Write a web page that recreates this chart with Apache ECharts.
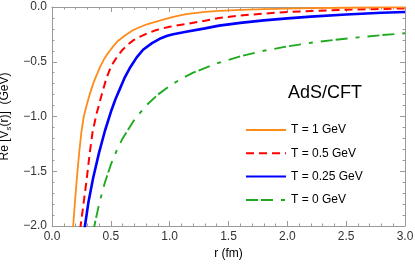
<!DOCTYPE html>
<html><head><meta charset="utf-8">
<script src="https://cdn.jsdelivr.net/npm/echarts@6/dist/echarts.min.js"></script>
<style>html,body{margin:0;padding:0;background:#fff}#c{width:415px;height:265px}</style>
</head><body><div id="c"></div>
<script>
// ---- data ----
const seriesNames = ['T = 1 GeV', 'T = 0.5 GeV', 'T = 0.25 GeV', 'T = 0 GeV'];
const xTicks = [0.0, 0.5, 1.0, 1.5, 2.0, 2.5, 3.0];
const yTicks = [0.0, -0.5, -1.0, -1.5, -2.0];

const rT1 = [0.17, 0.18, 0.195, 0.21, 0.23, 0.25, 0.27, 0.294, 0.32, 0.35, 0.38, 0.41, 0.44, 0.48, 0.52, 0.56, 0.62, 0.69, 0.8, 0.915, 1.03, 1.14, 1.3, 1.42, 1.6, 1.8, 2.0, 2.2, 2.5, 2.8, 3.0];
const vT1 = [-2.2, -2.0, -1.78, -1.58, -1.34, -1.14, -1.0, -0.9, -0.8, -0.70, -0.62, -0.545, -0.48, -0.415, -0.36, -0.31, -0.26, -0.21, -0.16, -0.125, -0.09, -0.065, -0.045, -0.036, -0.027, -0.019, -0.014, -0.010, -0.007, -0.004, -0.003];

const rT05 = [0.235, 0.243, 0.27, 0.294, 0.32, 0.345, 0.38, 0.42, 0.46, 0.49, 0.52, 0.55, 0.6, 0.65, 0.69, 0.75, 0.8, 0.887, 1.0, 1.14, 1.3, 1.42, 1.6, 1.8, 2.0, 2.2, 2.5, 2.8, 3.0];
const vT05 = [-2.15, -2.0, -1.78, -1.58, -1.34, -1.14, -0.97, -0.81, -0.66, -0.575, -0.51, -0.46, -0.39, -0.34, -0.305, -0.27, -0.245, -0.21, -0.18, -0.155, -0.125, -0.10, -0.078, -0.06, -0.046, -0.036, -0.025, -0.018, -0.013];

const rT025 = [0.27, 0.28, 0.31, 0.35, 0.40, 0.45, 0.506, 0.54, 0.576, 0.62, 0.66, 0.72, 0.774, 0.85, 0.915, 0.98, 1.03, 1.14, 1.3, 1.42, 1.6, 1.8, 2.0, 2.2, 2.5, 2.8, 3.0];
const vT025 = [-2.12, -2.0, -1.78, -1.56, -1.33, -1.13, -0.94, -0.84, -0.75, -0.64, -0.56, -0.46, -0.39, -0.33, -0.29, -0.262, -0.248, -0.226, -0.195, -0.17, -0.145, -0.122, -0.104, -0.088, -0.068, -0.053, -0.045];

const rT0 = [0.35, 0.36, 0.4, 0.45, 0.5, 0.55, 0.6, 0.7, 0.8, 0.9, 1.0, 1.1, 1.2, 1.4, 1.6, 1.8, 2.0, 2.2, 2.4, 2.6, 2.8, 3.0];
const vT0 = [-2.06, -2.0, -1.8, -1.6, -1.44, -1.31, -1.2, -1.03, -0.9, -0.8, -0.72, -0.655, -0.6, -0.515, -0.45, -0.4, -0.36, -0.327, -0.3, -0.277, -0.257, -0.24];

// ---- chart ----
const FONT = "'Liberation Sans', Arial, sans-serif";
const frame = '#9a9a9a';
const toPairs = (xs, ys) => xs.map((x, i) => [x, ys[i]]);
const fmt = v => (v < 0 ? '\u2212' : '') + Math.abs(v).toFixed(1);

function axis(extra, labels) {
  return Object.assign({
    type: 'value',
    axisLine: { show: true, onZero: false, lineStyle: { color: frame, width: 1 } },
    axisTick: { show: true, inside: true, length: 5, lineStyle: { color: frame, width: 1 } },
    minorTick: { show: true, splitNumber: 5, length: 2.5, lineStyle: { color: frame, width: 1 } },
    splitLine: { show: false },
    axisLabel: { show: labels, fontSize: 12, fontFamily: FONT, color: '#333', formatter: fmt, margin: 5 }
  }, extra);
}

const colors = ['#ff8c1a', '#ff0000', '#0000ff', '#1faa1f'];
const widths = [1.8, 2, 2.6, 1.9];
const types = ['solid', [8, 5], 'solid', [12, 3, 12, 8, 4, 8]];
const xs = [rT1, rT05, rT025, rT0];
const ys = [vT1, vT05, vT025, vT0];

const option = {
  animation: false,
  backgroundColor: '#fff',
  grid: { left: 52, right: 10, top: 7, bottom: 39, containLabel: false, outerBoundsMode: 'none' },
  xAxis: [
    axis({ position: 'bottom', min: xTicks[0], max: xTicks[xTicks.length - 1], interval: 0.5,
      name: 'r (fm)', nameLocation: 'middle', nameGap: 15,
      nameTextStyle: { fontSize: 12, fontFamily: FONT, color: '#000' } }, true),
    axis({ position: 'top', min: 0, max: 3, interval: 0.5 }, false)
  ],
  yAxis: [
    axis({ position: 'left', min: yTicks[yTicks.length - 1], max: yTicks[0], interval: 0.5,
      name: '{a|Re [V}{s|s}{a|(r)]  (GeV)}', nameLocation: 'middle', nameGap: 35,
      nameTextStyle: { fontSize: 12, fontFamily: FONT, color: '#000',
        rich: {
          a: { fontSize: 12, lineHeight: 16, fontFamily: FONT, color: '#000' },
          s: { fontSize: 8, lineHeight: 9, verticalAlign: 'bottom', fontFamily: FONT, fontStyle: 'italic', color: '#000' }
        } } }, true),
    axis({ position: 'right', min: -2, max: 0, interval: 0.5 }, false)
  ],
  legend: {
    orient: 'vertical', left: 245, top: 123, itemWidth: 40, itemHeight: 14, itemGap: 9.3, padding: 0,
    itemStyle: { opacity: 0 },
    textStyle: { fontSize: 12, fontFamily: FONT, color: '#000', lineHeight: 14 },
    data: seriesNames
  },
  graphic: [{
    type: 'text', x: 288, y: 93,
    style: { text: 'AdS/CFT', fontSize: 18, fontFamily: FONT, fill: '#000', verticalAlign: 'middle', align: 'left' }
  }],
  series: seriesNames.map((n, i) => ({
    name: n, type: 'line', symbol: 'none', clip: true, silent: true,
    data: toPairs(xs[i], ys[i]),
    lineStyle: { color: colors[i], width: widths[i], type: types[i] },
    itemStyle: { color: colors[i] },
    z: 10 - i
  }))
};

const chart = echarts.init(document.getElementById('c'), null, { renderer: 'canvas' });
chart.setOption(option);
</script></body></html>
